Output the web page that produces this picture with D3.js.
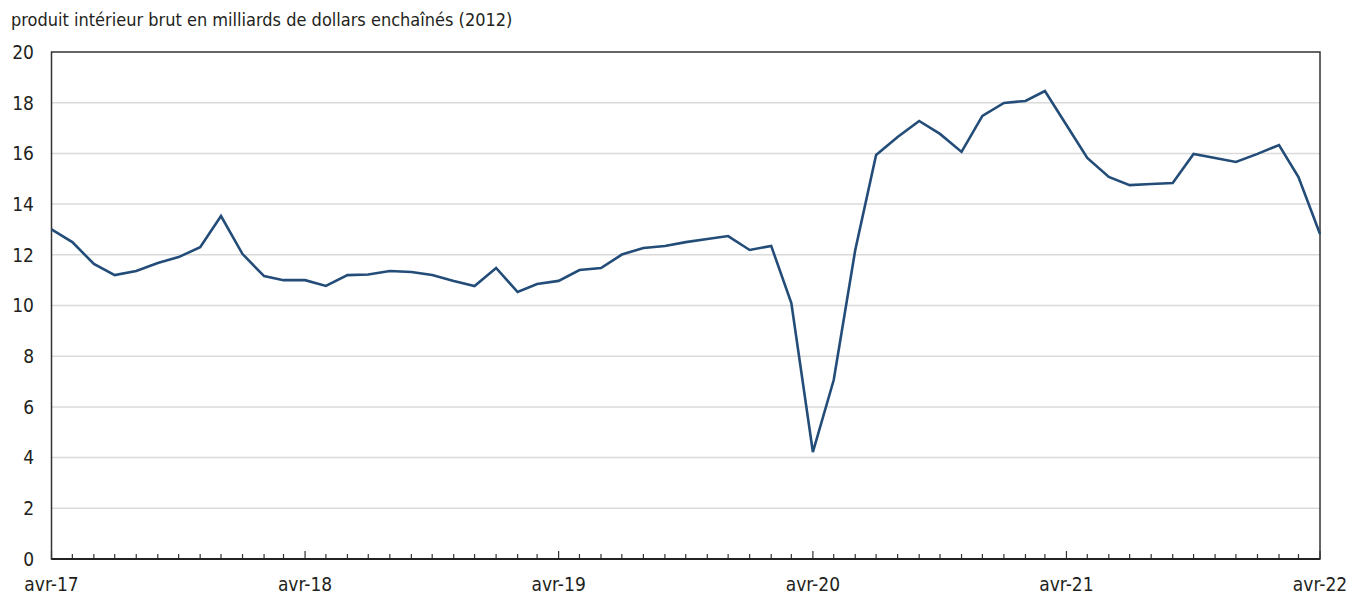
<!DOCTYPE html>
<html>
<head>
<meta charset="utf-8">
<script src="https://cdn.jsdelivr.net/npm/d3@7"></script>
<style>
  body { margin: 0; background: #fff; }
  svg text { font-family: "Liberation Sans Narrow", "DejaVu Sans Condensed", "Liberation Sans", sans-serif; fill: #231f20; }
</style>
</head>
<body>
<svg id="chart" width="1353" height="598"></svg>
<script>
// monthly, avr-17 .. avr-22
const startMonth = new Date(2017, 3, 1);
const gdpValues = [
  13.0, 12.5, 11.64, 11.2, 11.36, 11.68, 11.91, 12.3, 13.53, 12.03,
  11.16, 11.0, 11.0, 10.77, 11.2, 11.22, 11.36, 11.32, 11.2, 10.97,
  10.77, 11.48, 10.53, 10.85, 10.97, 11.4, 11.48, 12.01, 12.27, 12.35,
  12.5, 12.62, 12.74, 12.19, 12.35, 10.1, 4.22, 7.06, 12.19, 15.94,
  16.65, 17.28, 16.77, 16.06, 17.48, 17.99, 18.07, 18.46, 17.12, 15.82,
  15.07, 14.75, 14.79, 14.83, 15.98, 15.82, 15.66, 15.98, 16.33, 15.07,
  12.82
];
const yTicks = [0, 2, 4, 6, 8, 10, 12, 14, 16, 18, 20];
const xLabels = ["avr-17", "avr-18", "avr-19", "avr-20", "avr-21", "avr-22"];
const yTitle = "produit intérieur brut en milliards de dollars enchaînés (2012)";

const dataset = gdpValues.map((v, i) => ({
  date: new Date(startMonth.getFullYear(), startMonth.getMonth() + i, 1),
  value: v,
}));

const svg = d3.select("#chart");
const margin = { top: 52, right: 33, bottom: 39, left: 51.5 };
const width = 1353;
const height = 598;

const xScale = d3
  .scaleTime()
  .domain([dataset[0].date, dataset[dataset.length - 1].date])
  .range([margin.left, width - margin.right]);

const yScale = d3
  .scaleLinear()
  .domain([0, 20])
  .range([height - margin.bottom, margin.top]);

//gridlines
svg
  .append("g")
  .selectAll("line")
  .data(yTicks.filter((d) => d > 0 && d < 20))
  .enter()
  .append("line")
  .attr("x1", margin.left)
  .attr("x2", width - margin.right)
  .attr("y1", (d) => yScale(d))
  .attr("y2", (d) => yScale(d))
  .attr("stroke", "#dadada")
  .attr("stroke-width", 1.5);

//y labels
svg
  .append("g")
  .selectAll("text")
  .data(yTicks)
  .enter()
  .append("text")
  .attr("x", 34)
  .attr("y", (d) => yScale(d))
  .attr("dy", "0.36em")
  .attr("text-anchor", "end")
  .attr("font-size", 19)
  .text((d) => d);

//title
svg
  .append("text")
  .attr("x", 11)
  .attr("y", 26)
  .attr("font-size", 18)
  .text(yTitle);

//frame
svg
  .append("rect")
  .attr("x", margin.left)
  .attr("y", yScale(20))
  .attr("width", width - margin.right - margin.left)
  .attr("height", yScale(0) - yScale(20))
  .attr("fill", "none")
  .attr("stroke", "#333")
  .attr("stroke-width", 1.5);

//x axis ticks, monthly minor, yearly major
const months = dataset.map((d) => d.date);
svg
  .append("g")
  .selectAll("line")
  .data(months)
  .enter()
  .append("line")
  .attr("x1", (d) => xScale(d))
  .attr("x2", (d) => xScale(d))
  .attr("y1", yScale(0))
  .attr("y2", (d) => yScale(0) - (d.getMonth() === 3 ? 8 : 5))
  .attr("stroke", "#333")
  .attr("stroke-width", 1.2);

svg
  .append("line")
  .attr("x1", margin.left)
  .attr("x2", width - margin.right)
  .attr("y1", yScale(0))
  .attr("y2", yScale(0))
  .attr("stroke", "#222")
  .attr("stroke-width", 2);

//x labels
svg
  .append("g")
  .selectAll("text")
  .data(xLabels)
  .enter()
  .append("text")
  .attr("x", (d, i) => xScale(new Date(2017 + i, 3, 1)))
  .attr("y", 591)
  .attr("text-anchor", "middle")
  .attr("font-size", 19)
  .text((d) => d);

//the line
const line = d3
  .line()
  .x((d) => xScale(d.date))
  .y((d) => yScale(d.value));

svg
  .append("path")
  .datum(dataset)
  .attr("d", line)
  .attr("fill", "none")
  .attr("stroke", "#234d78")
  .attr("stroke-width", 2.6)
  .attr("stroke-linejoin", "miter");
</script>
</body>
</html>
